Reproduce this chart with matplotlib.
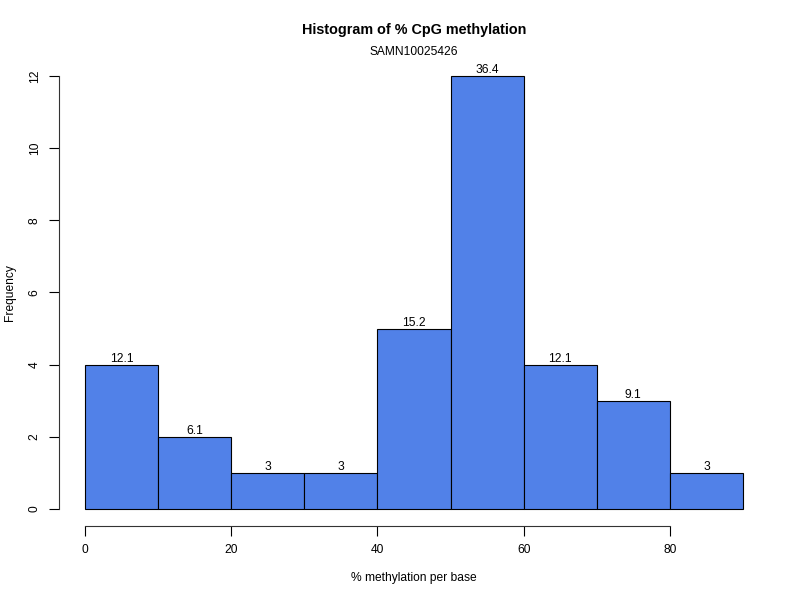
import matplotlib
matplotlib.use("Agg")
import matplotlib.pyplot as plt
import numpy as np

bin_edges = [0, 10, 20, 30, 40, 50, 60, 70, 80, 90]
counts = [4, 2, 1, 1, 5, 12, 4, 3, 1]
pct_labels = ["12.1", "6.1", "3", "3", "15.2", "36.4", "12.1", "9.1", "3"]
x_ticks = [0, 20, 40, 60, 80]
y_ticks = [0, 2, 4, 6, 8, 10, 12]

plt.rcParams['font.family'] = ['Liberation Sans', 'DejaVu Sans']
fs = 8.64

fig = plt.figure(figsize=(8, 6), dpi=100)
ax = fig.add_axes([58.7/800, 1-526.3/600, (769.3-58.7)/800, (526.3-58.7)/600])

edges = np.array(bin_edges)
widths = np.diff(edges)
ax.bar(edges[:-1], counts, width=widths, align='edge', color='#5181E8',
       edgecolor='black', linewidth=0.8)
for l, w, c, t in zip(edges[:-1], widths, counts, pct_labels):
    ax.text(l + w/2, c, t, ha='center', va='bottom', fontsize=fs)

ax.set_xlim(-3.6, 93.6)
ax.set_ylim(-0.48, 12.48)
for s in ['top', 'right']:
    ax.spines[s].set_visible(False)
ax.spines['left'].set_bounds(0, 12)
ax.spines['bottom'].set_bounds(0, 80)
ax.spines['bottom'].set_position(('outward', 0))
ax.spines['left'].set_color('#333333')
ax.spines['bottom'].set_color('#333333')
ax.set_xticks(x_ticks)
ax.set_yticks(y_ticks)
ax.tick_params(axis='both', length=7, width=0.8, labelsize=fs, colors='black')
ax.tick_params(axis='x', pad=6)
ax.tick_params(axis='y', pad=6)
for lab in ax.get_yticklabels():
    lab.set_rotation(90)
    lab.set_va('center')

fig.text(414/800, 1-30/600, "Histogram of % CpG methylation", ha='center', va='center',
         fontsize=10.4, fontweight='bold')
fig.text(414/800, 1-52/600, "SAMN10025426", ha='center', va='center', fontsize=fs)
fig.text(414/800, 1-578/600, "% methylation per base", ha='center', va='center', fontsize=fs)
fig.text(10/800, 1-293/600, "Frequency", ha='center', va='center', rotation=90, fontsize=fs)

fig.savefig("out.png", dpi=100)
